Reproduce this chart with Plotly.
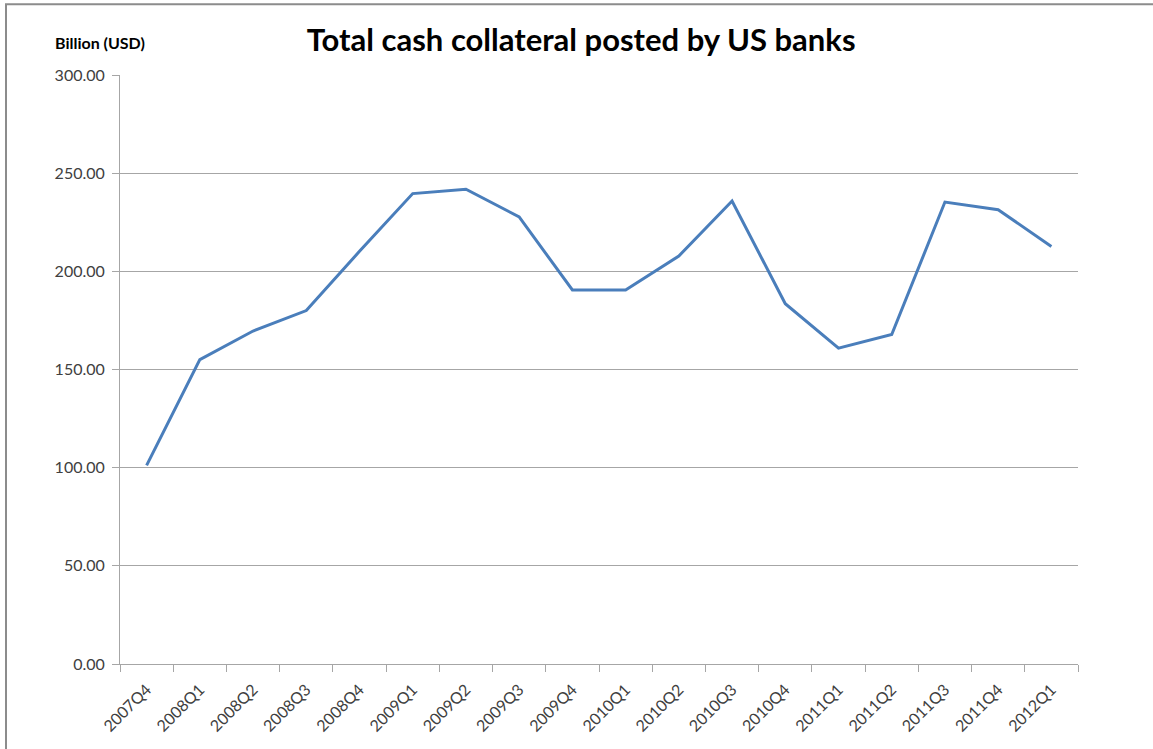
import plotly.graph_objects as go

quarters = ["2007Q4", "2008Q1", "2008Q2", "2008Q3", "2008Q4", "2009Q1", "2009Q2",
            "2009Q3", "2009Q4", "2010Q1", "2010Q2", "2010Q3", "2010Q4", "2011Q1",
            "2011Q2", "2011Q3", "2011Q4", "2012Q1"]
collateral = [101.2, 155.0, 169.6, 180.0, 210.2, 239.6, 241.8, 227.7, 190.5,
              190.5, 207.8, 235.8, 183.5, 160.9, 167.8, 235.3, 231.4, 212.7]
y_ticks = [0, 50, 100, 150, 200, 250, 300]

fig = go.Figure()
fig.add_trace(go.Scatter(
    x=quarters, y=collateral, mode="lines",
    line=dict(color="#4a7ebb", width=3),
    showlegend=False,
))

grid = "#a6a6a6"
fig.update_layout(
    width=1153, height=749,
    margin=dict(l=120, r=75, t=75, b=85),
    paper_bgcolor="white", plot_bgcolor="white",
    font=dict(family="Lato, Open Sans, sans-serif", size=16, color="#404040"),
    title=dict(
        text="<b>Total cash collateral posted by US banks</b>",
        x=0.504, xref="container", xanchor="center",
        y=1 - 40 / 749, yref="container", yanchor="middle",
        font=dict(family="Lato, sans-serif", size=31, color="#000000"),
    ),
    xaxis=dict(
        type="category", tickson="boundaries", ticks="outside", ticklen=7,
        tickcolor=grid, showline=True, linecolor=grid, linewidth=1,
        showgrid=False, tickangle=-45, range=[-0.5, len(quarters) - 0.5],
        ticklabelstandoff=9,
        tickfont=dict(size=16, color="#404040"),
    ),
    yaxis=dict(
        range=[0, 300], tickvals=y_ticks, tickformat=".2f",
        ticks="outside", ticklen=7, tickcolor=grid,
        showline=True, linecolor=grid, linewidth=1,
        showgrid=True, gridcolor=grid, gridwidth=1, zeroline=False,
        ticklabelstandoff=4,
        tickfont=dict(size=16, color="#404040"),
    ),
    annotations=[dict(
        text="<b>Billion (USD)</b>", xref="paper", yref="paper",
        x=-0.021, y=(663.6 - 42) / 588.9, xanchor="center", yanchor="middle",
        showarrow=False, font=dict(family="Lato, sans-serif", size=16, color="#000000"),
    )],
    shapes=[dict(
        type="rect", xref="paper", yref="paper",
        x0=(6 - 120) / 958, x1=1.2, y0=-0.3, y1=(663.6 - 4) / 588.9,
        line=dict(color="#8c8c8c", width=2), fillcolor="rgba(0,0,0,0)", layer="below",
    )],
)

fig.write_html("out.html", config={"displayModeBar": False},
               post_script="document.body.style.margin='0';")
